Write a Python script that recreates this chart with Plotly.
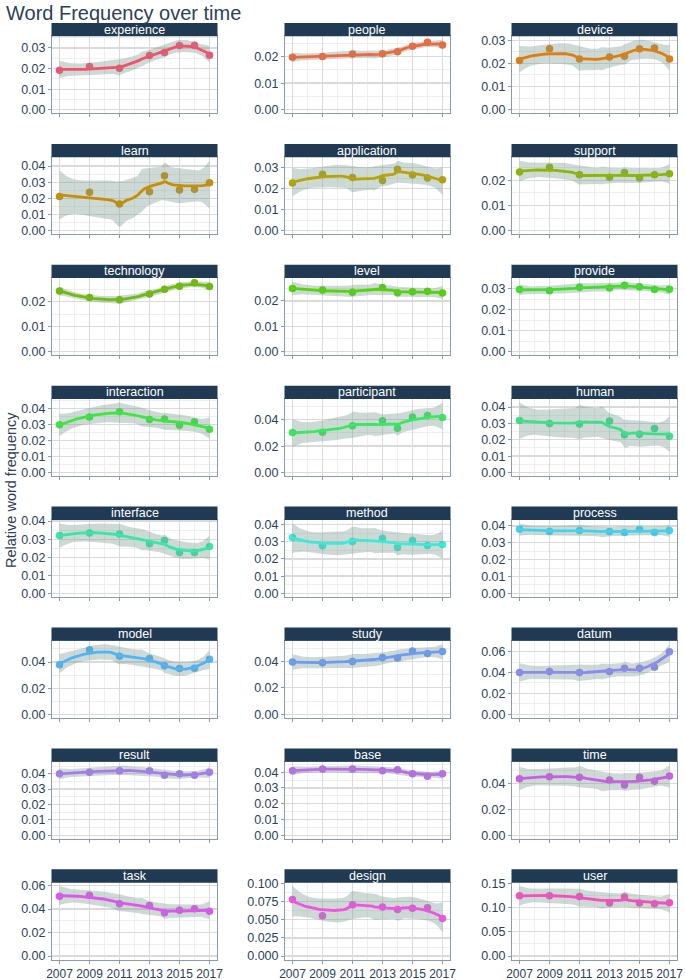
import math
import numpy as np
import plotly.graph_objects as go

# ---------------- data ----------------
YEARS = [2007, 2009, 2011, 2013, 2014, 2015, 2016, 2017]
X_TICKS = [2007, 2009, 2011, 2013, 2015, 2017]

WORDS = ["experience", "people", "device", "learn", "application", "support",
         "technology", "level", "provide", "interaction", "participant", "human",
         "interface", "method", "process", "model", "study", "datum",
         "result", "base", "time", "task", "design", "user"]

experience  = [0.0192, 0.0210, 0.0201, 0.0263, 0.0278, 0.0311, 0.0313, 0.0264]
people      = [0.0197, 0.0200, 0.0209, 0.0210, 0.0218, 0.0238, 0.0253, 0.0243]
device      = [0.0212, 0.0263, 0.0219, 0.0227, 0.0231, 0.0263, 0.0266, 0.0219]
learn       = [0.0211, 0.0238, 0.0166, 0.0241, 0.0340, 0.0252, 0.0256, 0.0297]
application = [0.0227, 0.0268, 0.0253, 0.0239, 0.0292, 0.0265, 0.0250, 0.0242]
support     = [0.0233, 0.0251, 0.0222, 0.0212, 0.0231, 0.0209, 0.0222, 0.0226]
technology  = [0.0242, 0.0216, 0.0207, 0.0230, 0.0249, 0.0261, 0.0275, 0.0260]
level       = [0.0249, 0.0243, 0.0234, 0.0253, 0.0232, 0.0236, 0.0238, 0.0231]
provide     = [0.0295, 0.0289, 0.0306, 0.0303, 0.0316, 0.0308, 0.0295, 0.0297]
interaction = [0.0300, 0.0348, 0.0381, 0.0333, 0.0335, 0.0296, 0.0319, 0.0271]
participant = [0.0303, 0.0305, 0.0354, 0.0392, 0.0336, 0.0420, 0.0433, 0.0418]
human       = [0.0317, 0.0300, 0.0296, 0.0315, 0.0231, 0.0233, 0.0269, 0.0221]
interface   = [0.0320, 0.0334, 0.0329, 0.0274, 0.0292, 0.0226, 0.0226, 0.0259]
method      = [0.0324, 0.0276, 0.0301, 0.0320, 0.0266, 0.0307, 0.0278, 0.0283]
process     = [0.0380, 0.0367, 0.0373, 0.0367, 0.0361, 0.0380, 0.0361, 0.0373]
model       = [0.0380, 0.0495, 0.0445, 0.0428, 0.0372, 0.0350, 0.0352, 0.0422]
study       = [0.0395, 0.0390, 0.0400, 0.0430, 0.0425, 0.0478, 0.0460, 0.0474]
datum       = [0.0400, 0.0410, 0.0400, 0.0410, 0.0440, 0.0440, 0.0450, 0.0600]
result      = [0.0400, 0.0410, 0.0420, 0.0420, 0.0390, 0.0400, 0.0390, 0.0410]
base        = [0.0410, 0.0420, 0.0420, 0.0410, 0.0415, 0.0390, 0.0375, 0.0390]
time        = [0.0440, 0.0455, 0.0450, 0.0430, 0.0390, 0.0450, 0.0420, 0.0460]
task        = [0.0510, 0.0518, 0.0445, 0.0431, 0.0368, 0.0390, 0.0402, 0.0382]
design      = [0.0778, 0.0555, 0.0708, 0.0676, 0.0640, 0.0658, 0.0665, 0.0518]
user        = [0.1240, 0.1240, 0.1228, 0.1090, 0.1214, 0.1090, 0.1077, 0.1098]

SERIES = {
    "experience": experience, "people": people, "device": device, "learn": learn,
    "application": application, "support": support, "technology": technology,
    "level": level, "provide": provide, "interaction": interaction,
    "participant": participant, "human": human, "interface": interface,
    "method": method, "process": process, "model": model, "study": study,
    "datum": datum, "result": result, "base": base, "time": time, "task": task,
    "design": design, "user": user,
}

COLORS = ["#F5506C", "#F1683A", "#E07E0C", "#C98D00", "#B8A300", "#8DB600",
          "#70BC00", "#52D600", "#3EE224", "#3CE83C", "#37EA5E", "#3BE28A",
          "#36E8A8", "#3AEBD8", "#3DD5F3", "#4FB4F8", "#6A9CF8", "#8C8CF0",
          "#A77BF0", "#BC6CE8", "#C95DE3", "#E055F0", "#F152E3", "#F94EC0"]

# ---------------- helpers (loess smoother like geom_smooth) ----------------
def loess_operator(x, x0s, span=0.75):
    n = len(x)
    q = int(math.floor(n * span))
    rows = []
    for x0 in x0s:
        d = np.abs(x - x0)
        h = np.sort(d)[q - 1]
        u = d / h
        wts = np.where(u < 1, (1 - u ** 3) ** 3, 0.0)
        dx = x - x0
        X = np.column_stack([np.ones(n), dx, dx ** 2])
        XtW = X.T * wts
        A = XtW @ X
        coef = np.linalg.solve(A, XtW)
        rows.append(coef[0])
    return np.array(rows)


def t_q975(df):
    c = math.gamma((df + 1) / 2) / (math.sqrt(df * math.pi) * math.gamma(df / 2))

    def half_cdf(t):
        n = 2000
        xs = np.linspace(0, t, n + 1)
        f = c * (1 + xs ** 2 / df) ** (-(df + 1) / 2)
        hh = t / n
        return hh / 3 * (f[0] + f[-1] + 4 * f[1:-1:2].sum() + 2 * f[2:-1:2].sum())

    lo, hi = 0.0, 60.0
    for _ in range(60):
        mid = (lo + hi) / 2
        if half_cdf(mid) < 0.475:
            lo = mid
        else:
            hi = mid
    return (lo + hi) / 2


def smooth(xv, yv, npts=80):
    x = np.asarray(xv, float)
    y = np.asarray(yv, float)
    n = len(x)
    L = loess_operator(x, x)
    R = np.eye(n) - L
    M = R.T @ R
    d1 = np.trace(M)
    d2 = np.trace(M @ M)
    res = R @ y
    s = math.sqrt(float(res @ res) / d1)
    df = d1 ** 2 / d2
    tq = t_q975(df)
    xs = np.linspace(x.min(), x.max(), npts)
    Lp = loess_operator(x, xs)
    fit = Lp @ y
    se = s * np.sqrt((Lp ** 2).sum(axis=1))
    return xs, fit, fit - tq * se, fit + tq * se


def extended_breaks(dmin, dmax, m=5):
    Q = [1, 5, 2, 2.5, 4, 3]
    w = [0.25, 0.2, 0.5, 0.05]
    eps = 1e-10
    nQ = len(Q)
    rng = dmax - dmin

    def simplicity(i, j, lmin, lmax, lstep):
        r = lmin % lstep
        v = 1 if ((r < eps or lstep - r < eps) and lmin <= 0 and lmax >= 0) else 0
        return 1 - i / (nQ - 1) - j + v

    def simplicity_max(i, j):
        return 1 - i / (nQ - 1) - j + 1

    def coverage(lmin, lmax):
        return 1 - 0.5 * ((dmax - lmax) ** 2 + (dmin - lmin) ** 2) / ((0.1 * rng) ** 2)

    def coverage_max(span):
        if span > rng:
            half = (span - rng) / 2
            return 1 - 0.5 * (2 * half ** 2) / ((0.1 * rng) ** 2)
        return 1

    def density(k, lmin, lmax):
        r = (k - 1) / (lmax - lmin)
        rt = (m - 1) / (max(lmax, dmax) - min(dmin, lmin))
        return 2 - max(r / rt, rt / r)

    def density_max(k):
        return 2 - (k - 1) / (m - 1) if k >= m else 1

    best_score = -2
    best = None
    j = 1
    while j < 40:
        stop = False
        for i, q in enumerate(Q):
            sm = simplicity_max(i, j)
            if w[0] * sm + w[1] + w[2] + w[3] < best_score:
                stop = True
                break
            k = 2
            while k < 40:
                dm = density_max(k)
                if w[0] * sm + w[1] + w[2] * dm + w[3] < best_score:
                    break
                delta = rng / (k + 1) / j / q
                z = math.ceil(math.log10(delta))
                while z < 10:
                    step = j * q * 10.0 ** z
                    cm = coverage_max(step * (k - 1))
                    if w[0] * sm + w[1] * cm + w[2] * dm + w[3] < best_score:
                        break
                    min_start = math.floor(dmax / step) * j - (k - 1) * j
                    max_start = math.ceil(dmin / step) * j
                    if min_start > max_start:
                        z += 1
                        continue
                    for start in range(min_start, max_start + 1):
                        lmin = start * (step / j)
                        lmax = lmin + step * (k - 1)
                        sc = (w[0] * simplicity(i, j, lmin, lmax, step)
                              + w[1] * coverage(lmin, lmax)
                              + w[2] * density(k, lmin, lmax) + w[3])
                        if sc > best_score:
                            best_score = sc
                            best = (lmin, lmax, step)
                    z += 1
                k += 1
        if stop:
            break
        j += 1
    lmin, lmax, step = best
    vals = []
    nb = int(round((lmax - lmin) / step))
    for t in range(nb + 1):
        b = round(lmin + t * step, 10)
        if dmin - 1e-12 <= b <= dmax + 1e-12:
            vals.append(b)
    return vals, step


def fmt_labels(vals):
    dec = 0
    for v in vals:
        d = 0
        while abs(v - round(v, d)) > 1e-9 and d < 8:
            d += 1
        dec = max(dec, d)
    return [f"{v:.{dec}f}" for v in vals]


# ---------------- layout geometry ----------------
W, H = 685, 980
COL_X = [(52, 217), (285, 450), (512, 677)]
PLOT_TOP0 = 36.3
PLOT_H = 77.0
ROW_STEP = 120.9
STRIP_H = 13.3

TXT = "#2C4157"
LINEC = "#8C9BAA"
STRIP = "#1F3A52"
BAND = "rgba(120,155,145,0.38)"
FONT = "Liberation Sans, Arial, sans-serif"

fig = go.Figure()
shapes = []
annotations = []

for idx, word in enumerate(WORDS):
    r, c = divmod(idx, 3)
    ax = "" if idx == 0 else str(idx + 1)
    xref, yref = "x" + ax, "y" + ax
    yv = SERIES[word]
    col = COLORS[idx]

    xs, fit, lo_b, hi_b = smooth(YEARS, yv)

    # points first, then ribbon, then line (ggplot layer order)
    fig.add_trace(go.Scatter(x=YEARS, y=yv, mode="markers", xaxis=xref, yaxis=yref,
                             marker=dict(color=col, size=7.5), showlegend=False,
                             hoverinfo="x+y"))
    fig.add_trace(go.Scatter(x=np.concatenate([xs, xs[::-1]]),
                             y=np.concatenate([hi_b, lo_b[::-1]]),
                             fill="toself", fillcolor=BAND, line=dict(width=0),
                             mode="lines", xaxis=xref, yaxis=yref, showlegend=False,
                             hoverinfo="skip"))
    fig.add_trace(go.Scatter(x=xs, y=fit, mode="lines", xaxis=xref, yaxis=yref,
                             line=dict(color=col, width=2.8), showlegend=False,
                             hoverinfo="skip"))

    ylo = min(0.0, float(lo_b.min()), min(yv))
    yhi = max(float(hi_b.max()), max(yv))
    pad = 0.05 * (yhi - ylo)
    rlo, rhi = ylo - pad, yhi + pad
    brks, step = extended_breaks(rlo, rhi)
    minor = []
    for b in [brks[0] - step] + brks:
        mv = b + step / 2
        if rlo <= mv <= rhi:
            minor.append(mv)

    x0p, x1p = COL_X[c]
    top = PLOT_TOP0 + r * ROW_STEP
    bot = top + PLOT_H
    xdom = [x0p / W, x1p / W]
    ydom = [1 - bot / H, 1 - top / H]

    fig.layout["xaxis" + ax] = dict(
        domain=xdom, anchor=yref, range=[2006.5, 2017.5], automargin=False,
        tickmode="array", tickvals=X_TICKS, tickangle=0,
        ticktext=[str(v) for v in X_TICKS] if r == 7 else [""] * len(X_TICKS),
        showgrid=True, gridcolor="#DADADA", gridwidth=1.3,
        minor=dict(tickvals=[2008, 2010, 2012, 2014, 2016], showgrid=True,
                   gridcolor="#EBEBEB", gridwidth=0.8, ticks=""),
        ticks="outside", ticklen=3, tickcolor=LINEC, tickwidth=1,
        showline=True, mirror=True, linecolor=LINEC, linewidth=1,
        zeroline=False, tickfont=dict(size=12, color=TXT, family=FONT),
        fixedrange=True)
    fig.layout["yaxis" + ax] = dict(
        domain=ydom, anchor=xref, range=[rlo, rhi], automargin=False,
        tickmode="array", tickvals=brks, ticktext=fmt_labels(brks),
        showgrid=True, gridcolor="#DADADA", gridwidth=1.3,
        minor=dict(tickvals=minor, showgrid=True, gridcolor="#EBEBEB",
                   gridwidth=0.8, ticks=""),
        ticks="outside", ticklen=3, tickcolor=LINEC, tickwidth=1,
        showline=True, mirror=True, linecolor=LINEC, linewidth=1,
        zeroline=False, tickfont=dict(size=12.5, color=TXT, family=FONT),
        fixedrange=True)

    # facet strip
    shapes.append(dict(type="rect", xref="paper", yref="paper",
                       x0=(x0p - 0.5) / W, x1=(x1p + 0.5) / W,
                       y0=1 - top / H, y1=1 - (top - STRIP_H) / H,
                       fillcolor=STRIP, line=dict(width=0), layer="above"))
    annotations.append(dict(text=word, xref="paper", yref="paper",
                            x=(x0p + x1p) / 2 / W, y=1 - (top - STRIP_H / 2) / H,
                            xanchor="center", yanchor="middle", showarrow=False,
                            font=dict(size=12.5, color="white", family=FONT)))

annotations.append(dict(text="Word Frequency over time", xref="paper", yref="paper",
                        x=4 / W, y=1.0, xanchor="left", yanchor="top", showarrow=False,
                        font=dict(size=20, color=TXT, family=FONT)))
annotations.append(dict(text="Relative word frequency", xref="paper", yref="paper",
                        x=11 / W, y=1 - 490 / H, xanchor="center", yanchor="middle",
                        textangle=-90, showarrow=False,
                        font=dict(size=14.5, color=TXT, family=FONT)))

fig.update_layout(width=W, height=H, margin=dict(l=0, r=0, t=0, b=0, autoexpand=False),
                  paper_bgcolor="white", plot_bgcolor="white",
                  shapes=shapes, annotations=annotations, showlegend=False,
                  font=dict(family=FONT, color=TXT))

fig.write_html("out.html", config={"displayModeBar": False, "staticPlot": True},
               post_script="document.body.style.margin='0px';"
                           "document.body.style.padding='0px';"
                           "document.documentElement.style.overflow='hidden';")
